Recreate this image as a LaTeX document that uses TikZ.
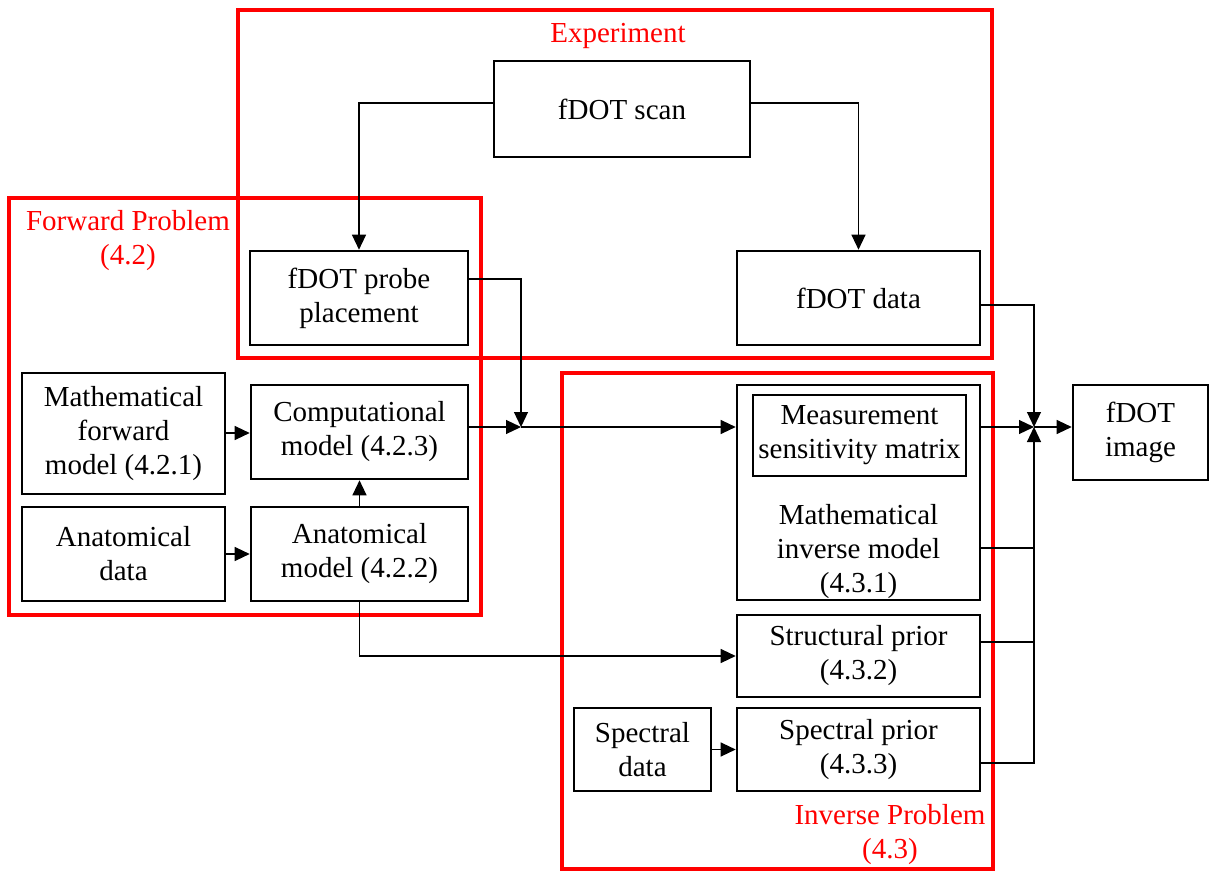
\documentclass[tikz,border=0pt]{standalone}
\usepackage{fontspec}
\setmainfont{Liberation Serif}
\usetikzlibrary{arrows.meta}
\begin{document}
\begin{tikzpicture}[x=1pt,y=-1pt,
  txt/.style={font=\fontsize{29}{34}\selectfont, align=center, inner sep=0pt},
  box/.style={txt, draw=black, line width=2.6pt},
  frame/.style={draw=red, line width=4pt},
  redlab/.style={txt, text=red},
  conn/.style={draw=black, line width=1.2pt},
  arr/.style={conn, -{Triangle[length=15pt,width=14pt]}}]
\useasboundingbox (0,0) rectangle (1211,872);
% frames
\draw[frame] (238,10) rectangle (992,358);
\draw[frame] (9,198) rectangle (481,615);
\draw[frame] (562,373) rectangle (993,869);
% boxes
\node[box, minimum width=256pt, minimum height=96pt] (scan) at (622,109) {fDOT scan};
\node[box, minimum width=218pt, minimum height=94pt] (probe) at (359,298) {fDOT probe\\placement};
\node[box, minimum width=243pt, minimum height=94pt] (data) at (858.5,298) {fDOT data};
\node[box, minimum width=203pt, minimum height=121pt] (mfm) at (123.5,433.5) {Mathematical\\forward\\model (4.2.1)};
\node[box, minimum width=217pt, minimum height=94pt] (comp) at (359.5,432) {Computational\\model (4.2.3)};
\node[box, minimum width=203pt, minimum height=94pt] (adata) at (123.5,554) {Anatomical\\data};
\node[box, minimum width=217pt, minimum height=94pt] (amodel) at (359.5,554) {Anatomical\\model (4.2.2)};
\node[box, minimum width=243pt, minimum height=215pt] (inv) at (858.5,492.5) {};
\node[txt] (invtxt) at (858.5,552) {Mathematical\\inverse model\\(4.3.1)};
\node[box, minimum width=213pt, minimum height=81pt] (msm) at (859.5,435.5) {Measurement\\sensitivity matrix};
\node[box, minimum width=243pt, minimum height=82pt] (struct) at (858.5,656) {Structural prior\\(4.3.2)};
\node[box, minimum width=243pt, minimum height=83pt] (sprior) at (858.5,749.5) {Spectral prior\\(4.3.3)};
\node[box, minimum width=137pt, minimum height=83pt] (sdata) at (642.5,749.5) {Spectral\\data};
\node[box, minimum width=135pt, minimum height=95pt] (img) at (1140.5,432.5) {fDOT\\image};
% red labels
\node[redlab] (lexp) at (618,36) {Experiment};
\node[redlab] (lfwd) at (128,241) {Forward Problem\\(4.2)};
\node[redlab] (linv) at (890,835) {Inverse Problem\\(4.3)};
% junctions
\coordinate (j1) at (521,427);
\coordinate (j2) at (1034,427);
% connectors
\draw[arr] (scan.west |- 0,103) -| (probe.north);
\draw[arr] (scan.east |- 0,103) -| (data.north);
\draw[arr] (probe.east |- 0,279) -| (j1);
\draw[arr] (comp.east |- j1) -- (j1);
\draw[arr] (j1) -- (inv.west |- j1);
\draw[arr] (mfm.east |- 0,433) -- (comp.west |- 0,433);
\draw[arr] (adata.east) -- (amodel.west);
\draw[arr] (amodel.north) -- (comp.south);
\draw[arr] (amodel.south) |- (struct.west);
\draw[arr] (sdata.east) -- (sprior.west);
\draw[arr] (data.east |- 0,305) -| (j2);
\draw[arr] (inv.east |- j2) -- (j2);
\draw[conn] (inv.east |- 0,548) -- (j2 |- 0,548);
\draw[conn] (struct.east |- 0,642) -- (j2 |- 0,642);
\draw[arr] (sprior.east |- 0,763) -| (j2);
\draw[arr] (j2) -- (img.west |- j2);
\end{tikzpicture}
\end{document}
